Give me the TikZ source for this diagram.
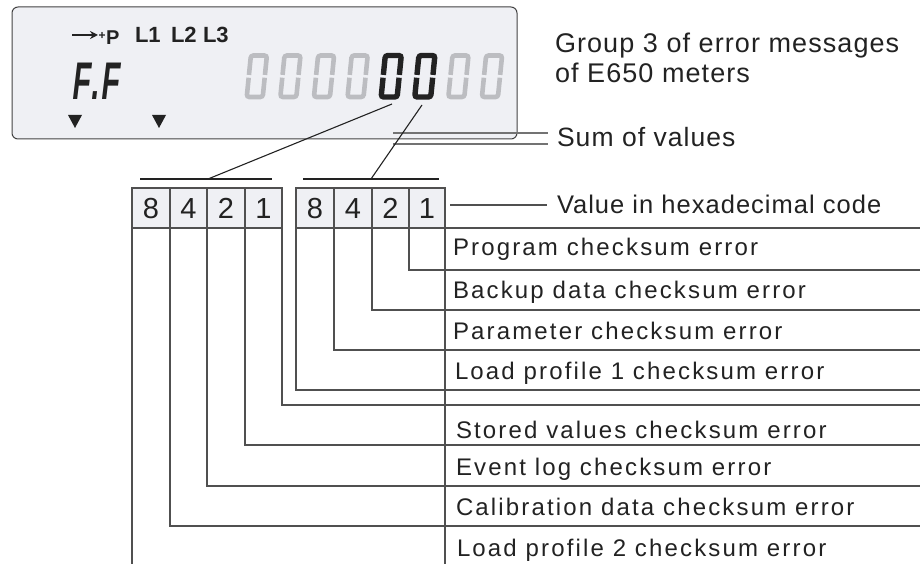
\documentclass[tikz,border=0pt]{standalone}
\usepackage{fontspec}
\usetikzlibrary{arrows.meta}
\setmainfont{Liberation Sans}
\newfontfamily\toplab[LetterSpace=4]{Liberation Sans}
\newfontfamily\rowlab[LetterSpace=9]{Liberation Sans}
\newfontfamily\lcdfont[FakeStretch=0.55,FakeSlant=0.12]{Liberation Sans}
\newfontfamily\lcdbold{Liberation Sans}
\definecolor{lcdbg}{HTML}{EFF0F4}
\definecolor{ink}{HTML}{222222}
\definecolor{segoff}{HTML}{BCBDC1}
\definecolor{lineg}{HTML}{505050}
\begin{document}
\begin{tikzpicture}[x=1pt,y=-1pt,
  lab/.style={anchor=base west, inner sep=0pt, outer sep=0pt, text=ink},
  toptext/.style={lab, font=\toplab\fontsize{27}{30}\selectfont},
  rowtext/.style={lab, font=\rowlab\fontsize{24}{28}\selectfont},
  headdigit/.style={inner sep=0pt, text=ink, font=\fontsize{29}{32}\selectfont},
  lcdlab/.style={lab, font=\lcdbold\bfseries\fontsize{22}{24}\selectfont},
  tline/.style={draw=lineg, line width=1.1pt},
  pointer/.style={draw=ink, line width=1.1pt},
  headcell/.style={fill=lcdbg, draw=lineg, line width=1.1pt}]
\useasboundingbox (0,0) rectangle (922,564);

% ---------------- LCD display ----------------
\draw[fill=lcdbg, draw=ink!85, line width=1pt, rounded corners=6pt] (12,7) rectangle (517,139);
\coordinate (arrS) at (72,35);
\coordinate (arrE) at (98,35);
\draw[ink, line width=2.2pt, -{Stealth[length=8pt,width=8pt]}] (arrS) -- (arrE);
\node[lab, font=\lcdbold\bfseries\fontsize{12}{12}\selectfont] (plus) at (98.5,40) {+};
\node[lab, font=\lcdbold\bfseries\fontsize{20}{20}\selectfont] (pp) at (106,45) {P};
\node[lcdlab] (l1) at (135,43) {L1};
\node[lcdlab] (l2) at (171,43) {L2};
\node[lcdlab] (l3) at (203,43) {L3};
\node[lab, font=\lcdfont\bfseries\fontsize{53}{56}\selectfont] (ff) at (71,100) {F\kern2pt.\kern1.5pt F};
\fill[ink] (68,115) -- (82,115) -- (75,128) -- cycle;
\fill[ink] (152,115) -- (166,115) -- (159,128) -- cycle;

% seven-segment digits
\foreach \i in {0,...,7} {
  \pgfmathsetmacro\xo{244+33.6*\i}
  \ifnum\i=4 \def\dc{ink}\def\lw{5.4pt}\else\ifnum\i=5 \def\dc{ink}\def\lw{5.4pt}\else\def\dc{segoff}\def\lw{4.6pt}\fi\fi
  \begin{scope}[shift={(\xo,99.5)}, xslant=0.1]
    \draw[draw=\dc, line width=\lw, rounded corners=2.5pt]
      (2.5,-21.8) -- (2.5,-2.5) -- (18.5,-2.5) -- (18.5,-21.8);
    \draw[draw=\dc, line width=\lw, rounded corners=2.5pt]
      (2.5,-24.6) -- (2.5,-44) -- (18.5,-44) -- (18.5,-24.6);
  \end{scope}
}

% "sum of values" double line
\coordinate (s1a) at (393,133);
\coordinate (s1b) at (548,133);
\coordinate (s2a) at (393,144);
\coordinate (s2b) at (548,144);
\draw[draw=lineg!80, line width=1.1pt] (s1a) -- (s1b);
\draw[draw=lineg!80, line width=1.1pt] (s2a) -- (s2b);

% ---------------- texts top right ----------------
\node[toptext] (g1) at (555,53) {Group 3 of error messages};
\node[toptext] (g2) at (555,83) {of E650 meters};
\node[lab, font=\toplab\fontsize{26.5}{30}\selectfont] (sum) at (557,147) {Sum of values};
\node[lab, font=\toplab\fontsize{25.5}{30}\selectfont] (hex) at (557,214) {Value in hexadecimal code};
\coordinate (hexL) at (450,205);
\coordinate (hexR) at (547,205);
\draw[tline] (hexL) -- (hexR);

% ---------------- pointers digits -> groups ----------------
\coordinate (d5) at (392,104);
\coordinate (d6) at (422,105);
\coordinate (bl1) at (140,179);
\coordinate (bl2) at (272,179);
\coordinate (br1) at (303,179);
\coordinate (br2) at (439,179);
\coordinate (bm1) at (208,179);
\coordinate (bm2) at (371,179);
\draw[pointer] (bl1) -- (bl2);
\draw[pointer] (br1) -- (br2);
\draw[pointer] (d5) -- (bm1);
\draw[pointer] (d6) -- (bm2);

% ---------------- header cells ----------------
\draw[headcell] (132,188) rectangle (282,228);
\draw[headcell] (296,188) rectangle (445,228);
\foreach \x in {170,207,245,334,372,409} \draw[tline] (\x,188) -- (\x,228);
\foreach \x/\v/\n in {151/8/ha,188.5/4/hb,226/2/hc,263.5/1/hd,315/8/he,353/4/hf,390.5/2/hg,427/1/hh}
  \node[headdigit] (\n) at (\x,208.5) {\v};

% ---------------- bit lines ----------------
\foreach \x/\y in {409/270,372/310,334/350,296/390,282/405,245/445,207/486,170/526}
  \draw[tline] (\x,228) |- (920,\y);
\draw[tline] (132,228) -- (132,564);
\draw[tline] (445,228) -- (445,564);
\draw[tline] (445,228) -- (920,228);

% ---------------- row labels ----------------
\node[rowtext] (r1) at (453,256) {Program checksum error};
\node[rowtext] (r2) at (453,299) {Backup data checksum error};
\node[rowtext] (r3) at (453,340) {Parameter checksum error};
\node[rowtext] (r4) at (455,380) {Load profile 1 checksum error};
\node[rowtext] (r5) at (456,438) {Stored values checksum error};
\node[rowtext] (r6) at (456,475) {Event log checksum error};
\node[rowtext] (r7) at (456,515) {Calibration data checksum error};
\node[rowtext] (r8) at (457,556) {Load profile 2 checksum error};
\end{tikzpicture}
\end{document}
